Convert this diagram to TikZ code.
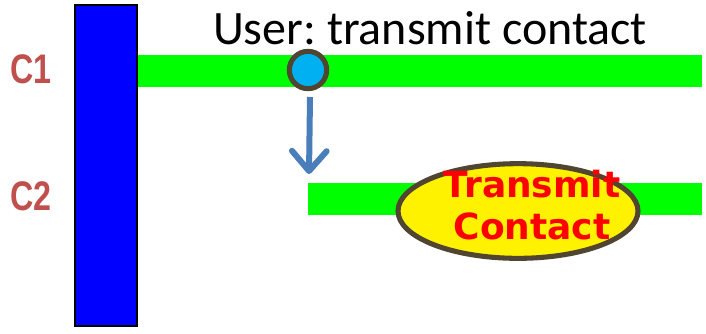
\documentclass[tikz,border=0pt]{standalone}
\usepackage{fontspec}
\setmainfont{Carlito}
\newfontfamily\vfont{DejaVu Sans}
\newfontfamily\afont{Liberation Sans}
\usetikzlibrary{shapes.geometric, arrows.meta}
\definecolor{olive}{HTML}{4F4530}
\definecolor{cyanball}{HTML}{00B0F0}
\definecolor{steel}{HTML}{4A7EBB}
\definecolor{chan}{HTML}{C0504D}
\newcommand{\chtext}[1]{\scalebox{0.78}[1]{#1}}

\begin{document}
\frenchspacing
\begin{tikzpicture}[x=0.75pt,y=-0.75pt,
  lane/.style={fill=green,draw=none},
  chlabel/.style={text=chan,font=\afont\bfseries\fontsize{31pt}{31pt}\selectfont,inner sep=0pt}]
  \useasboundingbox (0,0) rectangle (706,333);
  \fill[lane] (138,55) rectangle (702,87);
  \fill[lane] (308,183) rectangle (702,215);
  \draw[fill=blue,line width=1.5pt] (75,5) rectangle (137,326);
  \path (31,69) node[chlabel] (c1) {\chtext{C1}} (31,196) node[chlabel] (c2) {\chtext{C2}};
  \path (430,28) node[font=\fontsize{36pt}{36pt}\selectfont,inner sep=0pt] (title) {User: transmit contact};
  \path (308,70) node[circle,draw=olive,fill=cyanball,line width=3.8pt,minimum size=28pt,inner sep=0pt] (ev) {};
  \path (518,211) node[ellipse,draw=olive,fill=yellow,line width=3.8pt,minimum width=180pt,minimum height=71pt,inner sep=0pt] (tc) {};
  \path (532,205) node[align=center,text=red,inner sep=0pt,font=\vfont\bfseries\fontsize{27pt}{31.5pt}\selectfont] (tctext) {Transmit\\Contact};
  \coordinate (a0) at (310,97);
  \coordinate (a1) at (309,174);
  \draw[steel,line width=4.5pt,-{Straight Barb[length=15pt,width=26pt,round]}] (a0) -- (a1);
\end{tikzpicture}
\end{document}
